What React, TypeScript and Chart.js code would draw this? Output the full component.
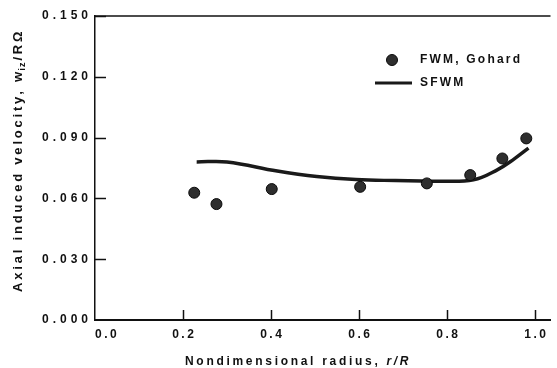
import { useEffect, useRef } from "react";
import { Chart, registerables } from "chart.js";

Chart.register(...registerables);

// ---- data ----
const xTickValues = [0, 0.2, 0.4, 0.6, 0.8, 1.0];
const yTickValues = [0, 0.03, 0.06, 0.09, 0.12, 0.15];

const fwmR = [0.2255, 0.276, 0.4016, 0.6025, 0.754, 0.8526, 0.9256, 0.98];
const fwmW = [0.0628, 0.0572, 0.0646, 0.0657, 0.0674, 0.0715, 0.0797, 0.0896];

const sfwmR = [0.231, 0.3, 0.414, 0.504, 0.593, 0.683, 0.78, 0.86, 0.914, 0.952, 0.985];
const sfwmW = [0.0780, 0.0780, 0.0735, 0.0708, 0.0693, 0.0688, 0.0685, 0.0692, 0.0741, 0.0794, 0.0848];

const seriesLabels = ["FWM, Gohard", "SFWM"];
const xTitle = "Nondimensional radius, ";
const xTitleItalic = "r/R";
const yTitleMain = "Axial induced velocity, w";
const yTitleSub = "iz";
const yTitleEnd = "/RΩ";

const FONT = '"Liberation Sans", Arial, Helvetica, sans-serif';
const INK = "#111111";

const decorPlugin = {
  id: "decor",
  afterDraw(chart: any) {
    const ctx: CanvasRenderingContext2D = chart.ctx;
    const { left, right, top, bottom } = chart.chartArea;
    const xs = chart.scales.x;
    const ys = chart.scales.y;
    ctx.save();
    ctx.strokeStyle = INK;
    ctx.fillStyle = INK;

    // top frame line
    ctx.lineWidth = 1.5;
    ctx.beginPath();
    ctx.moveTo(left, top);
    ctx.lineTo(right, top);
    ctx.stroke();

    // inward tick marks
    ctx.lineWidth = 1.5;
    xs.ticks.forEach((t: any) => {
      if (t.value === 0) return;
      const px = Math.round(xs.getPixelForValue(t.value)) + 0.5;
      ctx.beginPath();
      ctx.moveTo(px, bottom);
      ctx.lineTo(px, bottom - 10);
      ctx.stroke();
    });
    ys.ticks.forEach((t: any) => {
      if (t.value === 0) return;
      const py = Math.round(ys.getPixelForValue(t.value)) + 0.5;
      ctx.beginPath();
      ctx.moveTo(left, py);
      ctx.lineTo(left + 11, py);
      ctx.stroke();
    });

    // y tick labels
    ctx.font = `bold 12px ${FONT}`;
    (ctx as any).letterSpacing = "4px";
    ctx.textAlign = "right";
    ctx.textBaseline = "middle";
    ys.ticks.forEach((t: any) => {
      const py = ys.getPixelForValue(t.value);
      ctx.fillText(t.label, left - 3, py);
    });

    // x tick labels
    (ctx as any).letterSpacing = "2.5px";
    xs.ticks.forEach((t: any) => {
      const px = xs.getPixelForValue(t.value);
      if (t.value === 0) {
        ctx.textAlign = "left";
        ctx.fillText(t.label, px, bottom + 15);
      } else {
        ctx.textAlign = "center";
        ctx.fillText(t.label, px + 1.25, bottom + 15);
      }
    });

    // x title
    (ctx as any).letterSpacing = "2.7px";
    ctx.textAlign = "left";
    ctx.font = `bold 12px ${FONT}`;
    const tx = 185;
    const ty = bottom + 42;
    ctx.fillText(xTitle, tx, ty);
    const w1 = ctx.measureText(xTitle).width;
    ctx.font = `italic bold 12px ${FONT}`;
    ctx.fillText(xTitleItalic, tx + w1, ty);

    // y title (rotated, with subscript)
    ctx.save();
    ctx.translate(18, 292);
    ctx.rotate(-Math.PI / 2);
    ctx.textAlign = "left";
    ctx.textBaseline = "middle";
    (ctx as any).letterSpacing = "2.8px";
    ctx.font = `bold 13px ${FONT}`;
    ctx.fillText(yTitleMain, 0, 0);
    let off = ctx.measureText(yTitleMain).width - 1.5;
    ctx.font = `bold 9px ${FONT}`;
    (ctx as any).letterSpacing = "1px";
    ctx.fillText(yTitleSub, off, 5);
    off += ctx.measureText(yTitleSub).width + 1;
    ctx.font = `bold 13px ${FONT}`;
    (ctx as any).letterSpacing = "2.8px";
    ctx.fillText(yTitleEnd, off, 0);
    ctx.restore();

    // legend
    const ds0 = chart.data.datasets[0];
    const ds1 = chart.data.datasets[1];
    ctx.beginPath();
    ctx.arc(392, 60, 5.5, 0, Math.PI * 2);
    ctx.fillStyle = ds0.backgroundColor;
    ctx.fill();
    ctx.lineWidth = 1;
    ctx.strokeStyle = ds0.borderColor;
    ctx.stroke();
    ctx.strokeStyle = ds1.borderColor;
    ctx.lineWidth = 3;
    ctx.beginPath();
    ctx.moveTo(375, 83);
    ctx.lineTo(412, 83);
    ctx.stroke();
    ctx.fillStyle = INK;
    ctx.font = `bold 12px ${FONT}`;
    (ctx as any).letterSpacing = "2.2px";
    ctx.textAlign = "left";
    ctx.textBaseline = "middle";
    ctx.fillText(seriesLabels[0], 420, 60);
    ctx.fillText(seriesLabels[1], 420, 83);

    ctx.restore();
  },
};

export default function App() {
  const ref = useRef<HTMLCanvasElement | null>(null);

  useEffect(() => {
    if (!ref.current) return;
    const chart = new Chart(ref.current, {
      type: "scatter",
      data: {
        datasets: [
          {
            label: seriesLabels[0],
            data: fwmR.map((r, i) => ({ x: r, y: fwmW[i] })),
            backgroundColor: "#2e2e2e",
            borderColor: "#0a0a0a",
            borderWidth: 1,
            pointRadius: 5.5,
            showLine: false,
            order: 1,
          },
          {
            label: seriesLabels[1],
            data: sfwmR.map((r, i) => ({ x: r, y: sfwmW[i] })),
            borderColor: "#1a1a1a",
            backgroundColor: "#1a1a1a",
            borderWidth: 3.5,
            pointRadius: 0,
            showLine: true,
            tension: 0.4,
            order: 2,
          } as any,
        ],
      },
      options: {
        animation: false,
        responsive: false,
        maintainAspectRatio: false,
        layout: { padding: { top: 16, right: 0, bottom: 0, left: 0 } },
        plugins: {
          legend: { display: false },
          tooltip: { enabled: false },
          title: { display: false },
        },
        scales: {
          x: {
            type: "linear",
            min: 0,
            max: 1.035,
            afterBuildTicks: (s: any) => {
              s.ticks = xTickValues.map((v) => ({ value: v }));
            },
            afterFit: (s: any) => {
              s.height = 48;
            },
            ticks: { display: false, callback: (v: any) => Number(v).toFixed(1) },
            grid: { display: false },
            border: { display: true, color: INK, width: 2 },
            title: { display: false },
          },
          y: {
            type: "linear",
            min: 0,
            max: 0.15,
            afterBuildTicks: (s: any) => {
              s.ticks = yTickValues.map((v) => ({ value: v }));
            },
            afterFit: (s: any) => {
              s.width = 95;
            },
            ticks: { display: false, callback: (v: any) => Number(v).toFixed(3) },
            grid: { display: false },
            border: { display: true, color: INK, width: 1.5 },
            title: { display: false },
          },
        },
      },
      plugins: [decorPlugin],
    });
    return () => chart.destroy();
  }, []);

  return (
    <div style={{ position: "fixed", left: 0, top: 0, width: 557, height: 368, background: "#fff" }}>
      <canvas ref={ref} width={557} height={368} style={{ width: 557, height: 368 }} />
    </div>
  );
}
